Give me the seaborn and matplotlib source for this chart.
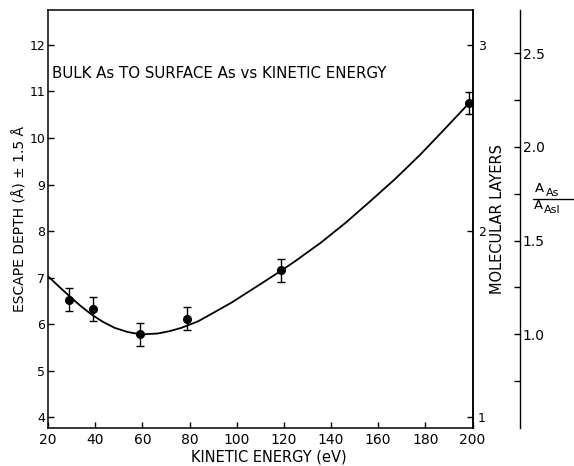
import matplotlib
matplotlib.use("Agg")
import matplotlib.pyplot as plt
import seaborn as sns
from matplotlib.lines import Line2D
from matplotlib.ticker import FixedLocator

# ---- data ----
energy_pts = [29, 39, 59, 79, 119, 198.5]
depth_pts = [6.53, 6.32, 5.78, 6.12, 7.16, 10.75]
depth_err = [0.24, 0.26, 0.25, 0.25, 0.25, 0.23]

curve_energy = [20, 24.2, 28.5, 33.4, 38.4, 43.3, 48.3, 53.9, 59.6, 66.6, 71.6, 76.5, 83.6,
                90.7, 97.7, 104.8, 111.9, 118.9, 124.7, 135.4, 146, 156.6, 167.2, 177.8,
                187.6, 198.2]
curve_depth = [7.03, 6.83, 6.63, 6.41, 6.21, 6.05, 5.92, 5.83, 5.78, 5.80, 5.85, 5.92, 6.06,
               6.26, 6.46, 6.69, 6.92, 7.15, 7.35, 7.74, 8.17, 8.64, 9.12, 9.64,
               10.16, 10.73]

x_ticks = [20, 40, 60, 80, 100, 120, 140, 160, 180, 200]
y_ticks = [4, 5, 6, 7, 8, 9, 10, 11, 12]
layer_ticks = [1, 2, 3]
ratio_major = [1.0, 1.5, 2.0, 2.5]
ratio_minor = [0.75, 1.25, 1.75, 2.25]
ratio_labels = ["1.0", "1.5", "2.0", "2.5"]

sns.set_style("ticks")
plt.rcParams['font.family'] = ['DejaVu Sans']
plt.rcParams.update({'text.color': 'black', 'axes.labelcolor': 'black',
                     'xtick.color': 'black', 'ytick.color': 'black',
                     'axes.edgecolor': 'black'})

W, H = 574, 466
fig = plt.figure(figsize=(W / 100, H / 100), dpi=100)
left, right, top, bottom = 48, 472.5, 10, 427.5
ax = fig.add_axes([left / W, (H - bottom) / H, (right - left) / W, (bottom - top) / H])

sns.lineplot(x=curve_energy, y=curve_depth, ax=ax, color='black', lw=1.3, sort=False)
ax.errorbar(energy_pts, depth_pts, yerr=depth_err, fmt='o', color='black',
            ms=5.5, elinewidth=1.0, capsize=2.6, capthick=1.0)

ax.set_xlim(20, 200)
ax.set_ylim(3.78, 12.75)
ax.set_xticks(x_ticks)
ax.set_xticklabels([str(t) for t in x_ticks])
ax.set_yticks(y_ticks)
ax.set_yticklabels([str(t) for t in y_ticks])
ax.tick_params(axis='x', direction='in', length=4.5, width=1, labelsize=10, pad=4, top=False)
ax.tick_params(axis='y', direction='in', length=4.5, width=1, labelsize=9, pad=2, right=False)
for s in ax.spines.values():
    s.set_linewidth(1.1)
    s.set_color('black')

ax.set_xlabel("KINETIC ENERGY (eV)", fontsize=10.5)
ax.xaxis.set_label_coords(0.52, -0.052)
ax.set_ylabel("ESCAPE DEPTH (Å) ± 1.5 Å", fontsize=10, labelpad=1)

ax.text(0.01, 0.847, "BULK As TO SURFACE As vs KINETIC ENERGY", transform=ax.transAxes,
        fontsize=10.8, va='center', ha='left')

# molecular layers axis (linear: layers = depth / 4)
ax2 = ax.twinx()
ax2.set_ylim(3.78 / 4, 12.75 / 4)
ax2.set_yticks(layer_ticks)
ax2.set_yticklabels([str(t) for t in layer_ticks])
ax2.tick_params(axis='y', direction='in', length=4.5, width=1, labelsize=9, pad=4)
for k in ['left', 'top', 'bottom']:
    ax2.spines[k].set_visible(False)
ax2.spines['right'].set_linewidth(1.1)
ax2.set_ylabel("MOLECULAR LAYERS", fontsize=10.5, labelpad=3)

# ratio axis
ax3 = ax.twinx()
ax3.spines['right'].set_position(('axes', (520 - left) / (right - left)))
for k in ['left', 'top', 'bottom']:
    ax3.spines[k].set_visible(False)
ax3.spines['right'].set_linewidth(1.0)
ax3.set_ylim(0.503, 2.73)
ax3.yaxis.set_major_locator(FixedLocator(ratio_major))
ax3.set_yticklabels(ratio_labels)
ax3.yaxis.set_minor_locator(FixedLocator(ratio_minor))
ax3.tick_params(axis='y', which='both', direction='in', length=4, width=1, labelsize=10, pad=2)

# A_As / A_AsI label
def ftext(x, y, s, size):
    fig.text(x / W, 1 - y / H, s, fontsize=size, ha='left', va='baseline')

ftext(535, 192, "A", 9.5)
ftext(545.5, 196, "As", 8)
fig.add_artist(Line2D([533 / W, 574 / W], [1 - 198.5 / H, 1 - 198.5 / H],
                      transform=fig.transFigure, color='black', lw=1))
ftext(533.5, 209, "A", 9.5)
ftext(543.5, 213, "AsI", 8)

fig.savefig("out.png", dpi=100)
